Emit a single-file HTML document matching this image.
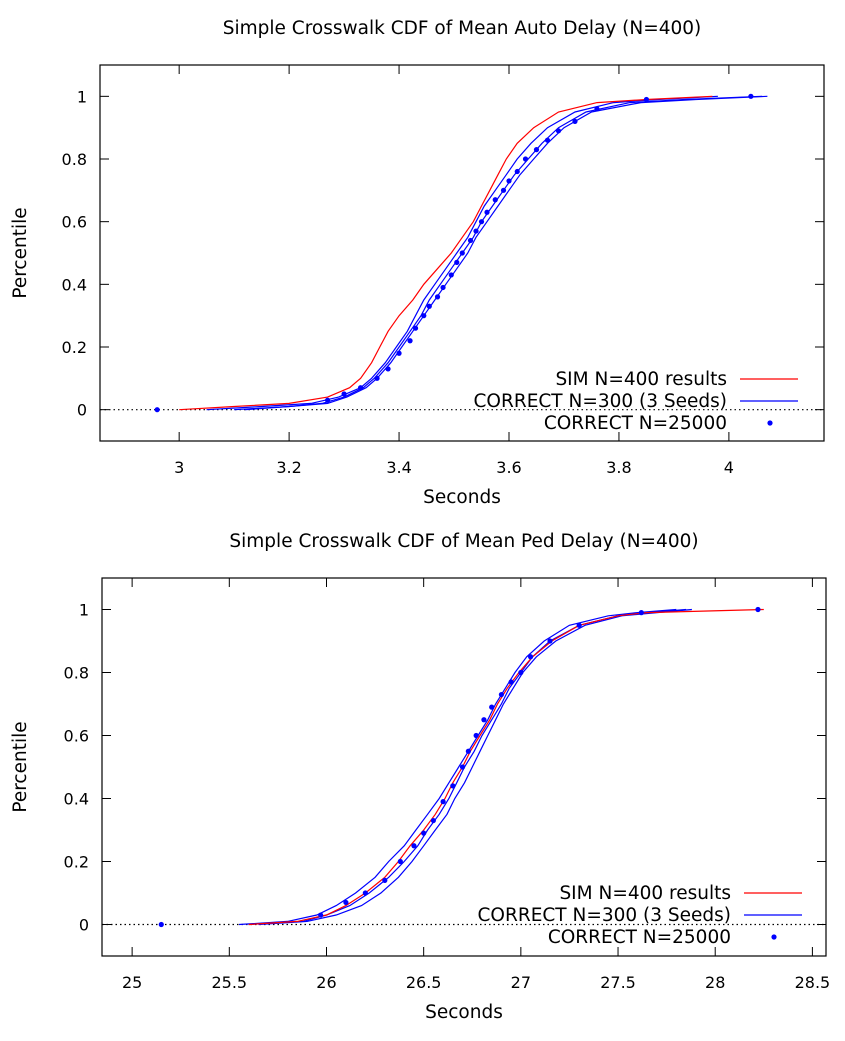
<!DOCTYPE html>
<html><head><meta charset="utf-8"><style>
body{margin:0;background:#fff}
svg{display:block}
text{font-family:"DejaVu Sans","Liberation Sans",sans-serif;fill:#000}
</style></head><body>
<svg id="chart" width="845" height="1041" viewBox="0 0 845 1041" xmlns="http://www.w3.org/2000/svg"></svg>
<script>
// ---- Top chart data (Auto delay) ----
const autoGrid = [0,0.01,0.02,0.04,0.07,0.1,0.15,0.2,0.25,0.3,0.35,0.4,0.45,0.5,0.55,0.6,0.65,0.7,0.75,0.8,0.85,0.9,0.95,0.98,0.99,1];
const autoSim = [3.0,3.1,3.2,3.27,3.31,3.33,3.35,3.365,3.38,3.4,3.425,3.445,3.47,3.495,3.515,3.535,3.55,3.565,3.58,3.595,3.615,3.645,3.69,3.76,3.85,3.97];
const autoSeed1 = [3.05,3.15,3.24,3.29,3.33,3.35,3.375,3.395,3.415,3.43,3.445,3.465,3.485,3.505,3.525,3.54,3.555,3.575,3.595,3.615,3.64,3.67,3.72,3.79,3.87,3.98];
const autoSeed2 = [3.1,3.2,3.26,3.3,3.335,3.355,3.38,3.4,3.42,3.44,3.455,3.475,3.495,3.515,3.535,3.55,3.57,3.59,3.61,3.635,3.66,3.69,3.74,3.82,3.92,4.06];
const autoSeed3 = [3.12,3.2,3.27,3.305,3.34,3.36,3.385,3.405,3.425,3.445,3.465,3.485,3.505,3.525,3.54,3.56,3.58,3.6,3.62,3.645,3.67,3.7,3.75,3.84,3.94,4.07];
const autoDotX = [2.96,3.27,3.3,3.33,3.36,3.38,3.4,3.42,3.43,3.445,3.455,3.47,3.48,3.495,3.505,3.515,3.53,3.54,3.55,3.56,3.575,3.59,3.6,3.615,3.63,3.65,3.67,3.69,3.72,3.76,3.85,4.04];
const autoDotY = [0,0.03,0.05,0.07,0.1,0.13,0.18,0.22,0.26,0.3,0.33,0.36,0.39,0.43,0.47,0.5,0.54,0.57,0.6,0.63,0.67,0.7,0.73,0.76,0.8,0.83,0.86,0.89,0.92,0.96,0.99,1];
const autoXTicks = [3,3.2,3.4,3.6,3.8,4];
// ---- Bottom chart data (Ped delay) ----
const pedGrid = [0,0.01,0.03,0.06,0.1,0.15,0.2,0.25,0.3,0.35,0.4,0.45,0.5,0.55,0.6,0.65,0.7,0.75,0.8,0.85,0.9,0.95,0.98,0.99,1];
const pedSim = [25.6,25.85,26.0,26.1,26.2,26.3,26.37,26.43,26.5,26.56,26.61,26.65,26.7,26.74,26.79,26.84,26.88,26.93,26.99,27.06,27.16,27.3,27.5,27.65,28.25];
const pedSeed1 = [25.55,25.8,25.95,26.05,26.15,26.25,26.32,26.4,26.46,26.52,26.58,26.63,26.68,26.73,26.78,26.83,26.87,26.92,26.97,27.03,27.12,27.25,27.45,27.6,27.8];
const pedSeed2 = [25.65,25.9,26.05,26.18,26.28,26.37,26.44,26.5,26.56,26.62,26.66,26.71,26.75,26.79,26.83,26.87,26.91,26.96,27.01,27.08,27.18,27.33,27.52,27.7,27.88];
const pedSeed3 = [25.6,25.88,26.0,26.12,26.22,26.32,26.4,26.47,26.52,26.58,26.63,26.67,26.71,26.76,26.8,26.85,26.9,26.94,27.0,27.06,27.15,27.3,27.5,27.65,27.85];
const pedDotX = [25.15,25.97,26.1,26.2,26.3,26.38,26.45,26.5,26.55,26.6,26.65,26.7,26.73,26.77,26.81,26.85,26.9,26.95,27.0,27.05,27.15,27.3,27.62,28.22];
const pedDotY = [0,0.03,0.07,0.1,0.14,0.2,0.25,0.29,0.33,0.39,0.44,0.5,0.55,0.6,0.65,0.69,0.73,0.77,0.8,0.85,0.9,0.95,0.99,1];
const pedXTicks = [25,25.5,26,26.5,27,27.5,28,28.5];
const yTicks = [0,0.2,0.4,0.6,0.8,1];

const svg = document.getElementById('chart');
const NS = 'http://www.w3.org/2000/svg';
function mk(tag, attrs, parent){const e=document.createElementNS(NS,tag);for(const k in attrs)e.setAttribute(k,attrs[k]);(parent||svg).appendChild(e);return e;}

function drawChart(cfg){
  const g = mk('g',{});
  
  
  const {L,R,T,B,x0,x1} = cfg;
  const sx = v => L + (v - x0)/(x1 - x0)*(R - L);
  const sy = v => B - (v + 0.1)/1.2*(B - T);
  const t = mk('text',{x:(L+R)/2,y:T-31,'text-anchor':'middle','font-size':'18.5'},g);
  t.textContent = cfg.title;
  
  
  const z = mk('line',{x1:L,x2:R,y1:sy(0),y2:sy(0),stroke:'#000','stroke-width':1.2,'stroke-dasharray':'1.5,3'},g);
  
  
  yTicks.forEach(v=>{
    const y=sy(v);
    mk('line',{x1:L,x2:L+9,y1:y,y2:y,stroke:'#000'},g);
    mk('line',{x1:R,x2:R-9,y1:y,y2:y,stroke:'#000'},g);
    const lb=mk('text',{x:L-13,y:y+6,'text-anchor':'end','font-size':'16'},g);
    lb.textContent=String(v);
    
    
  });
  cfg.xTicks.forEach(v=>{
    const x=sx(v);
    mk('line',{x1:x,x2:x,y1:B,y2:B-9,stroke:'#000'},g);
    mk('line',{x1:x,x2:x,y1:T,y2:T+9,stroke:'#000'},g);
    const lb=mk('text',{x:x,y:B+32,'text-anchor':'middle','font-size':'16'},g);
    lb.textContent=String(v);
    
    
  });
  const f = mk('rect',{x:L,y:T,width:R-L,height:B-T,fill:'none',stroke:'#000','stroke-width':1.2},g);
  
  
  const xt=mk('text',{x:(L+R)/2,y:B+62,'text-anchor':'middle','font-size':'18.5'},g);
  xt.textContent='Seconds';
  
  
  const ym=(T+B)/2;
  const yt=mk('text',{x:26,y:ym,'text-anchor':'middle','font-size':'18.5',transform:`rotate(-90 26 ${ym})`},g);
  yt.textContent='Percentile';
  
  
  function line(xs, color, name){
    const pts = xs.map((v,i)=>sx(v).toFixed(1)+','+sy(cfg.grid[i]).toFixed(1)).join(' ');
    const p = mk('polyline',{points:pts,fill:'none',stroke:color,'stroke-width':1.2},g);
    
    
  }
  cfg.seeds.forEach((s,i)=>line(s,'#0000ff','correct-seed-'+(i+1)));
  line(cfg.sim,'#ff0000','sim-line');
  cfg.dotX.forEach((v,i)=>{
    const c=mk('circle',{cx:sx(v),cy:sy(cfg.dotY[i]),r:2.6,fill:'#0000ff'},g);
    
    
  });
  const ly = cfg.legY;
  const labels=['SIM N=400 results','CORRECT N=300 (3 Seeds)','CORRECT N=25000'];
  labels.forEach((s,i)=>{
    const y=ly+i*22;
    const tx=mk('text',{x:cfg.legX,y:y+6,'text-anchor':'end','font-size':'18.5'},g);
    tx.textContent=s;
    
    
    if(i<2) mk('line',{x1:cfg.legX+13,x2:cfg.legX+71,y1:y,y2:y,stroke:i==0?'#ff0000':'#0000ff','stroke-width':1.2},g);
    else mk('circle',{cx:cfg.legX+43,cy:y,r:2.6,fill:'#0000ff'},g);
  });
}

drawChart({name:'auto-delay-chart',title:'Simple Crosswalk CDF of Mean Auto Delay (N=400)',
  L:100,R:824,T:65,B:441,x0:2.856,x1:4.173,grid:autoGrid,sim:autoSim,seeds:[autoSeed1,autoSeed2,autoSeed3],
  dotX:autoDotX,dotY:autoDotY,xTicks:autoXTicks,legX:727,legY:379});
drawChart({name:'ped-delay-chart',title:'Simple Crosswalk CDF of Mean Ped Delay (N=400)',
  L:102,R:826,T:578,B:956,x0:24.845,x1:28.57,grid:pedGrid,sim:pedSim,seeds:[pedSeed1,pedSeed2,pedSeed3],
  dotX:pedDotX,dotY:pedDotY,xTicks:pedXTicks,legX:731,legY:893});
</script>
</body></html>
